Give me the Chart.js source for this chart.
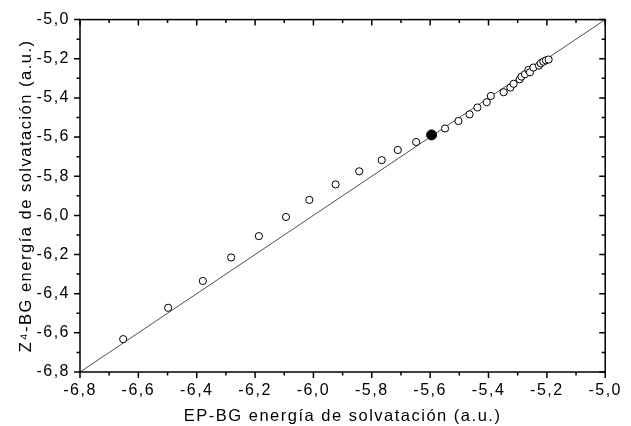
<!DOCTYPE html>
<html>
<head>
<meta charset="utf-8">
<title>Energía de solvatación: EP-BG frente a Z4-BG</title>
<script src="https://cdn.jsdelivr.net/npm/chart.js@4/dist/chart.umd.min.js"></script>
<style>
  html, body { margin: 0; padding: 0; background: #ffffff; }
  #wrap { width: 631px; height: 426px; }
</style>
</head>
<body>
<div id="wrap"><canvas id="c" width="631" height="426"></canvas></div>
<script>
// EP-BG solvation energies (a.u.), open markers
const epbgEnergy = [
  -6.652, -6.498, -6.379, -6.282, -6.187, -6.094, -6.014, -5.924, -5.843, -5.766,
  -5.711, -5.648, -5.549, -5.503, -5.465, -5.438, -5.406, -5.392, -5.348, -5.325,
  -5.314, -5.293, -5.287, -5.275, -5.263, -5.258, -5.246, -5.227, -5.221, -5.212,
  -5.203, -5.194
];
// Z4-BG solvation energies (a.u.), same molecules
const z4bgEnergy = [
  -6.632, -6.472, -6.335, -6.215, -6.106, -6.008, -5.921, -5.842, -5.775, -5.718,
  -5.666, -5.625, -5.556, -5.518, -5.484, -5.449, -5.422, -5.390, -5.371, -5.347,
  -5.328, -5.305, -5.291, -5.279, -5.257, -5.269, -5.245, -5.235, -5.223, -5.215,
  -5.208, -5.204
];
// highlighted molecule (filled marker)
const highlightEp = [-5.595];
const highlightZ4 = [-5.589];
// identity line y = x
const identityLine = [-6.8, -5.0];
// axis ticks
const xTickValues = [-6.8, -6.6, -6.4, -6.2, -6.0, -5.8, -5.6, -5.4, -5.2, -5.0];
const yTickValues = [-6.8, -6.6, -6.4, -6.2, -6.0, -5.8, -5.6, -5.4, -5.2, -5.0];
const xTitle = 'EP-BG energía de solvatación (a.u.)';
const yTitle = 'Z\u2074-BG energía de solvatación (a.u.)';

const fmt = v => (Math.round(v * 10) / 10).toFixed(1).replace('.', ',');
const toPoints = (xs, ys) => xs.map((x, i) => ({ x: x, y: ys[i] }));

Chart.defaults.font.family = "'Liberation Sans', Arial, sans-serif";
Chart.defaults.color = '#000000';

const LETTER_SPACING = '1.5px';
const TICK_FONT = { family: "'Liberation Sans', Arial, sans-serif", size: 16 };
const TITLE_FONT = { family: "'Liberation Sans', Arial, sans-serif", size: 16.5 };

// Frame with major/minor ticks: outward on bottom/left, inward on top/right
const framePlugin = {
  id: 'frameTicks',
  beforeUpdate(chart) { chart.ctx.letterSpacing = LETTER_SPACING; },
  beforeDraw(chart) { chart.ctx.letterSpacing = LETTER_SPACING; },
  afterDraw(chart) {
    const ctx = chart.ctx;
    const a = chart.chartArea;
    const xs = chart.scales.x, ys = chart.scales.y;
    const minor = vals => vals.slice(0, -1).map((v, i) => (v + vals[i + 1]) / 2);
    const MAJ = 6, MIN = 3.5;
    ctx.save();
    ctx.strokeStyle = '#000000';
    ctx.lineWidth = 1.5;
    ctx.strokeRect(a.left, a.top, a.right - a.left, a.bottom - a.top);
    ctx.beginPath();
    const tickX = (v, len) => {
      const p = xs.getPixelForValue(v);
      ctx.moveTo(p, a.bottom); ctx.lineTo(p, a.bottom + len);
      ctx.moveTo(p, a.top); ctx.lineTo(p, a.top + len);
    };
    const tickY = (v, len) => {
      const p = ys.getPixelForValue(v);
      ctx.moveTo(a.left, p); ctx.lineTo(a.left - len, p);
      ctx.moveTo(a.right, p); ctx.lineTo(a.right - len, p);
    };
    xTickValues.forEach(v => tickX(v, MAJ));
    minor(xTickValues).forEach(v => tickX(v, MIN));
    yTickValues.forEach(v => tickY(v, MAJ));
    minor(yTickValues).forEach(v => tickY(v, MIN));
    ctx.stroke();
    ctx.restore();
  }
};

new Chart(document.getElementById('c'), {
  type: 'scatter',
  data: {
    datasets: [
      {
        label: 'resaltado',
        data: toPoints(highlightEp, highlightZ4),
        pointStyle: 'circle',
        pointRadius: 5,
        pointBackgroundColor: '#000000',
        pointBorderColor: '#000000',
        pointBorderWidth: 1
      },
      {
        label: 'moléculas',
        data: toPoints(epbgEnergy, z4bgEnergy),
        pointStyle: 'circle',
        pointRadius: 3.6,
        pointBackgroundColor: '#ffffff',
        pointBorderColor: '#000000',
        pointBorderWidth: 1
      },
      {
        type: 'line',
        label: 'y = x',
        data: toPoints(identityLine, identityLine),
        borderColor: '#222222',
        borderWidth: 0.8,
        pointRadius: 0,
        fill: false
      }
    ]
  },
  options: {
    responsive: false,
    animation: false,
    devicePixelRatio: 1,
    layout: { padding: { top: 18, right: 19, left: 0, bottom: 0 } },
    plugins: {
      legend: { display: false },
      tooltip: { enabled: false }
    },
    scales: {
      x: {
        type: 'linear',
        min: -6.8,
        max: -5.0,
        afterBuildTicks: s => { s.ticks = xTickValues.map(v => ({ value: v })); },
        afterFit: s => { s.height = 54; },
        grid: { display: false, drawTicks: false },
        border: { display: false },
        ticks: {
          padding: 9,
          font: TICK_FONT,
          color: '#000000',
          maxRotation: 0,
          autoSkip: false,
          callback: v => fmt(v)
        },
        title: {
          display: true,
          text: xTitle,
          font: TITLE_FONT,
          color: '#000000',
          padding: { top: 0, bottom: 0 }
        }
      },
      y: {
        type: 'linear',
        min: -6.8,
        max: -5.0,
        afterBuildTicks: s => { s.ticks = yTickValues.map(v => ({ value: v })); },
        afterFit: s => { s.width = 80; },
        grid: { display: false, drawTicks: false },
        border: { display: false },
        ticks: {
          padding: 10,
          font: TICK_FONT,
          color: '#000000',
          autoSkip: false,
          callback: v => fmt(v)
        },
        title: {
          display: true,
          text: yTitle,
          font: TITLE_FONT,
          color: '#000000',
          padding: { top: 17, bottom: 0 }
        }
      }
    }
  },
  plugins: [framePlugin]
});
</script>
</body>
</html>
